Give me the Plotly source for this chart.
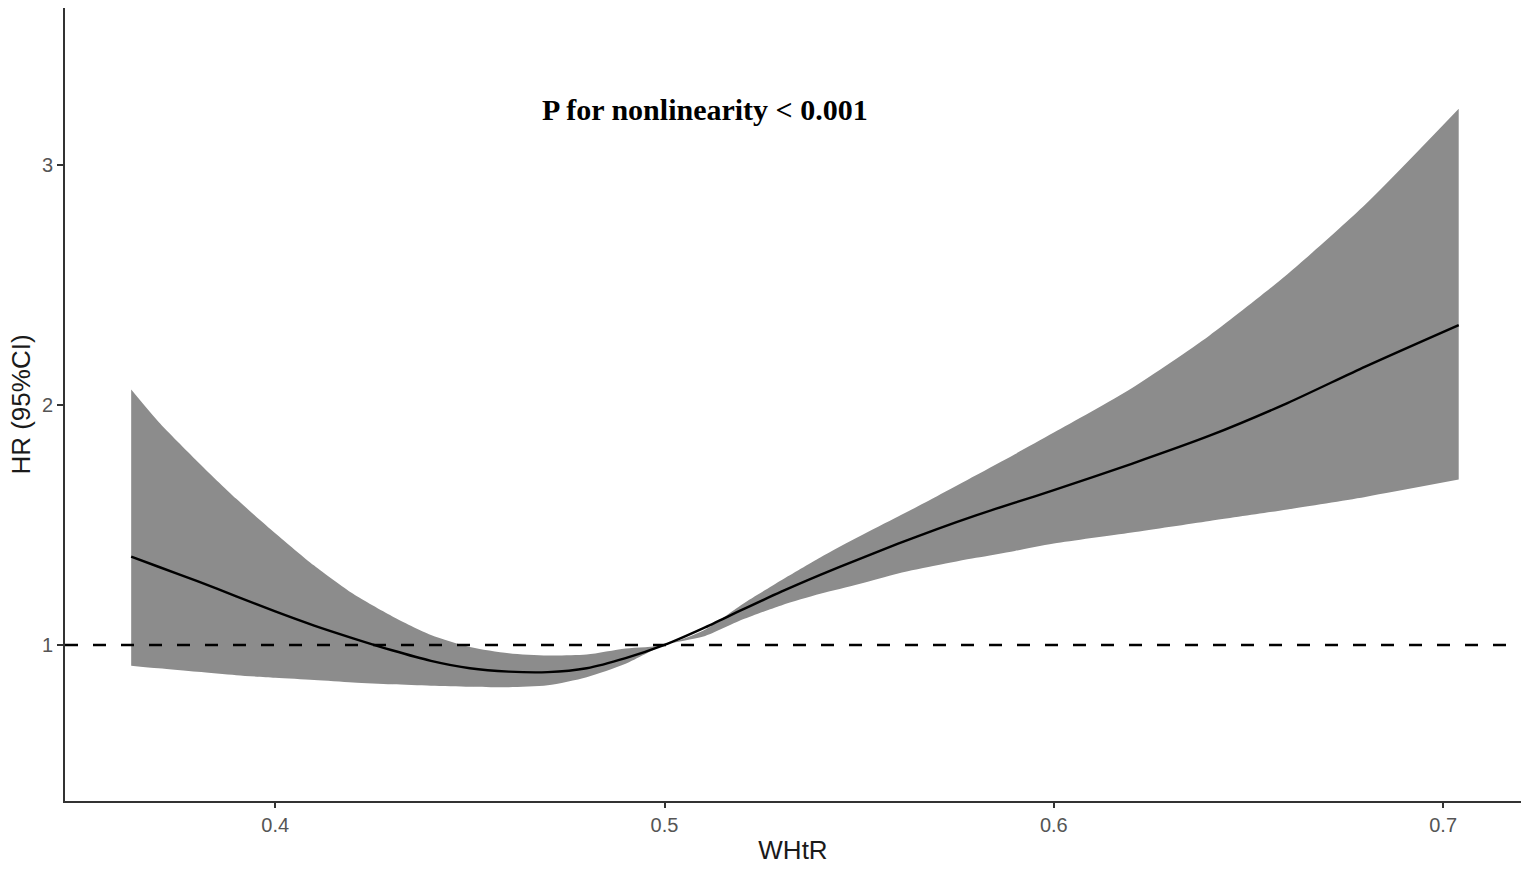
import plotly.graph_objects as go

whtr = [0.363, 0.37, 0.38, 0.39, 0.40, 0.41, 0.42, 0.43, 0.44, 0.45, 0.46, 0.47, 0.48, 0.49, 0.50,
        0.51, 0.52, 0.53, 0.54, 0.55, 0.56, 0.57, 0.58, 0.59, 0.60, 0.62, 0.64, 0.66, 0.68, 0.704]
hr = [1.368, 1.326, 1.266, 1.203, 1.140, 1.081, 1.028, 0.978, 0.934, 0.903, 0.889, 0.887, 0.903, 0.945, 1.0,
      1.07, 1.147, 1.222, 1.292, 1.358, 1.422, 1.483, 1.540, 1.593, 1.645, 1.755, 1.872, 2.008, 2.16, 2.333]
upper = [2.064, 1.930, 1.765, 1.609, 1.466, 1.331, 1.213, 1.120, 1.042, 0.992, 0.966, 0.956, 0.96, 0.985, 1.0,
         1.06, 1.17, 1.27, 1.365, 1.452, 1.535, 1.62, 1.707, 1.795, 1.885, 2.07, 2.29, 2.545, 2.835, 3.234]
lower = [0.914, 0.903, 0.888, 0.874, 0.863, 0.854, 0.844, 0.836, 0.830, 0.826, 0.824, 0.832, 0.866, 0.922, 1.0,
         1.035, 1.106, 1.165, 1.213, 1.254, 1.298, 1.332, 1.363, 1.392, 1.423, 1.469, 1.517, 1.565, 1.617, 1.689]
x_ticks = [0.4, 0.5, 0.6, 0.7]
y_ticks = [1, 2, 3]
annotation_text = "P for nonlinearity < 0.001"

fig = go.Figure()
fig.add_trace(go.Scatter(x=whtr, y=lower, mode="lines", line=dict(width=0, shape="spline", smoothing=0.7),
                         showlegend=False, hoverinfo="skip"))
fig.add_trace(go.Scatter(x=whtr, y=upper, mode="lines", line=dict(width=0, shape="spline", smoothing=0.7),
                         fill="tonexty", fillcolor="#8c8c8c", showlegend=False, hoverinfo="skip"))
fig.add_trace(go.Scatter(x=whtr, y=hr, mode="lines",
                         line=dict(color="black", width=2.4, shape="spline", smoothing=0.7),
                         showlegend=False))
fig.add_hline(y=1, line=dict(color="black", width=2.6, dash="13px,15px"))

fig.add_annotation(x=0.5105, y=3.23, text="<b>" + annotation_text + "</b>", showarrow=False,
                   font=dict(family="Liberation Serif", size=30, color="black"))

fig.update_layout(
    width=1535, height=872,
    margin=dict(l=65, r=14, t=8, b=71),
    plot_bgcolor="white", paper_bgcolor="white",
    font=dict(family="Liberation Sans, Arial", color="#4d4d4d"),
    xaxis=dict(range=[0.346, 0.72], tickvals=x_ticks, ticktext=[str(v) for v in x_ticks],
               showgrid=False, zeroline=False, showline=True, linecolor="#333333", linewidth=1.8,
               ticks="outside", ticklen=5, tickwidth=1.5, tickcolor="#333333",
               tickfont=dict(size=20, color="#555555"),
               title=dict(text="WHtR", font=dict(size=26, color="#1a1a1a"), standoff=6)),
    yaxis=dict(range=[0.35, 3.654], tickvals=y_ticks, ticktext=[str(v) for v in y_ticks],
               showgrid=False, zeroline=False, showline=True, linecolor="#333333", linewidth=1.8,
               ticks="outside", ticklen=6, tickwidth=1.5, tickcolor="#333333",
               tickfont=dict(size=20, color="#555555"),
               title=dict(text="HR (95%CI)", font=dict(size=26, color="#1a1a1a"), standoff=4)),
)

fig.write_html("out.html", config={"displayModeBar": False},
               post_script="document.body.style.margin='0';")
